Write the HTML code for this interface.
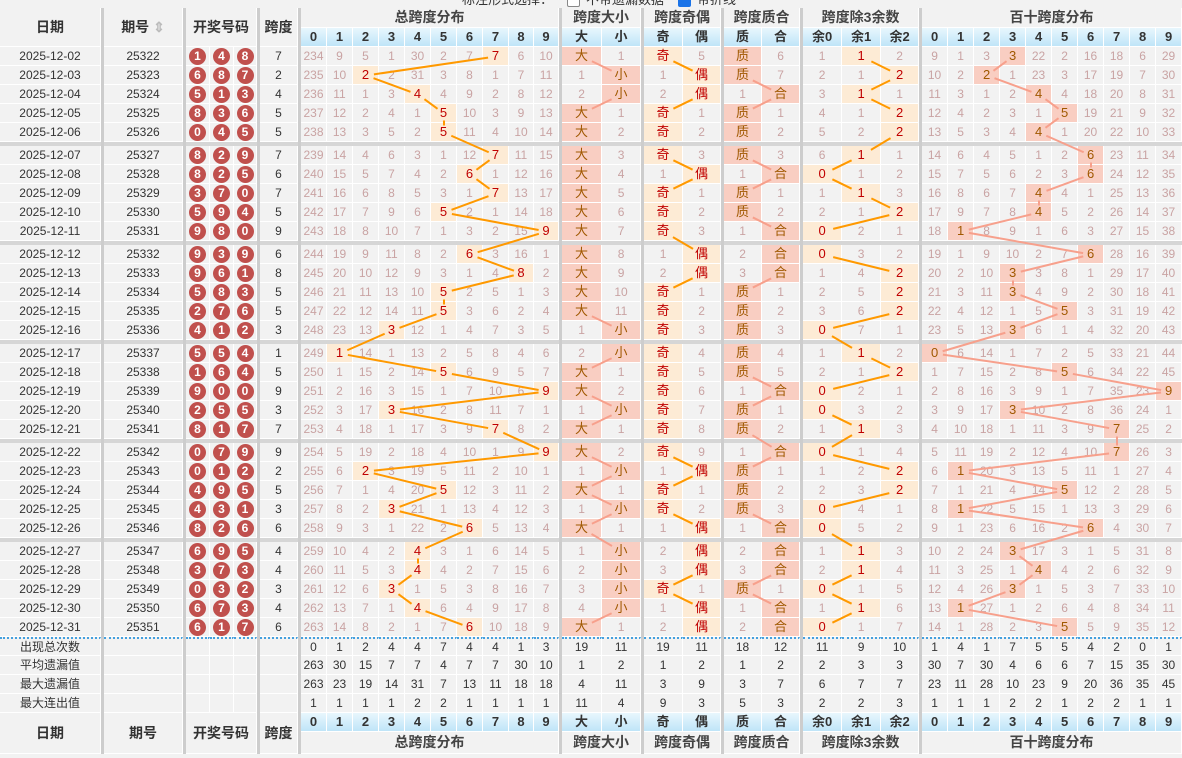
<!DOCTYPE html>
<html><head><meta charset="utf-8">
<style>
body{margin:0;background:#f2f2f2;width:1182px;height:758px;overflow:hidden;position:relative;font-family:"Liberation Sans","Noto Sans CJK SC",sans-serif}
table{position:absolute;top:8px;left:0;border-collapse:separate;border-spacing:0;table-layout:fixed;width:1182px}
td{padding:0;height:18px;max-height:18px;border-right:1px solid #fff;border-bottom:1px solid #fff;background:#f2f2f2;text-align:center;font-size:12px;color:#c9a3a3;white-space:nowrap;overflow:hidden;line-height:18px}
tr{height:19px}
td.s{background:#cdcdcd;border:0}
tr.r td:nth-child(-n+6){color:#333}
tr.st td{color:#333}
tr.st1 td{border-top:2px dotted #45a0de;height:16px;line-height:16px}
tr.gs{height:4px}
tr.gs td{height:4px;background:#d6d6d6;border:0;line-height:4px;font-size:1px}
.h{background:#fdebd5;color:#c00000;font-size:13px}
.g{background:#f9cec2;color:#a05800;font-size:13px}
.t{font-weight:bold;color:#444;font-size:14px;height:19px;line-height:19px}
.b{background:linear-gradient(#e8f7fd,#bfe5f8);color:#333;font-weight:bold;font-size:13px}
.k{color:#333;font-weight:bold;font-size:14px}
i{font-style:normal;display:block;margin:0.5px auto 0;width:17px;height:17px;border-radius:50%;background:#c0504d;color:#fff;font-weight:bold;font-size:12px;line-height:17px}
#top{position:absolute;top:-8px;left:462px;font-size:13px;color:#333;line-height:16px}
#top b{display:inline-block;width:11px;height:11px;border:1px solid #888;background:#fff;vertical-align:middle;margin:0 6px 0 14px;border-radius:2px}
#top b.c{background:#1a73e8;border-color:#1a73e8}
svg{position:absolute;left:0;top:0}
</style></head><body>
<div id="top">标注形式选择：<b></b>不带遗漏数据<b class="c"></b>带折线</div>
<table>
<colgroup><col style="width:101px"><col style="width:3px"><col style="width:79px"><col style="width:3px"><col style="width:24px"><col style="width:24px"><col style="width:23px"><col style="width:3px"><col style="width:38px"><col style="width:3px"><col style="width:26px"><col style="width:26px"><col style="width:26px"><col style="width:26px"><col style="width:26px"><col style="width:26px"><col style="width:26px"><col style="width:26px"><col style="width:25px"><col style="width:25px"><col style="width:3px"><col style="width:40px"><col style="width:39px"><col style="width:3px"><col style="width:39px"><col style="width:38px"><col style="width:3px"><col style="width:38px"><col style="width:38px"><col style="width:3px"><col style="width:39px"><col style="width:39px"><col style="width:38px"><col style="width:3px"><col style="width:26px"><col style="width:26px"><col style="width:26px"><col style="width:26px"><col style="width:26px"><col style="width:26px"><col style="width:26px"><col style="width:26px"><col style="width:26px"><col style="width:26px"></colgroup>
<tr style="height:20px"><td class="k" rowspan="2">日期</td><td class="s" rowspan="43"></td><td class="k" rowspan="2">期号 <span style="color:#bbb">⇕</span></td><td class="s" rowspan="43"></td><td class="k" colspan="3" rowspan="2">开奖号码</td><td class="s" rowspan="43"></td><td class="k" rowspan="2">跨度</td><td class="s" rowspan="43"></td><td class="t" colspan="10">总跨度分布</td><td class="s" rowspan="43"></td><td class="t" colspan="2">跨度大小</td><td class="s" rowspan="43"></td><td class="t" colspan="2">跨度奇偶</td><td class="s" rowspan="43"></td><td class="t" colspan="2">跨度质合</td><td class="s" rowspan="43"></td><td class="t" colspan="3">跨度除3余数</td><td class="s" rowspan="43"></td><td class="t" colspan="10">百十跨度分布</td></tr>
<tr><td class="b">0</td><td class="b">1</td><td class="b">2</td><td class="b">3</td><td class="b">4</td><td class="b">5</td><td class="b">6</td><td class="b">7</td><td class="b">8</td><td class="b">9</td><td class="b">大</td><td class="b">小</td><td class="b">奇</td><td class="b">偶</td><td class="b">质</td><td class="b">合</td><td class="b">余0</td><td class="b">余1</td><td class="b">余2</td><td class="b">0</td><td class="b">1</td><td class="b">2</td><td class="b">3</td><td class="b">4</td><td class="b">5</td><td class="b">6</td><td class="b">7</td><td class="b">8</td><td class="b">9</td></tr>

<tr class="r"><td>2025-12-02</td><td>25322</td><td><i>1</i></td><td><i>4</i></td><td><i>8</i></td><td>7</td><td>234</td><td>9</td><td>5</td><td>1</td><td>30</td><td>2</td><td>7</td><td class="h">7</td><td>6</td><td>10</td><td class="g">大</td><td>1</td><td class="h">奇</td><td>5</td><td class="g">质</td><td>6</td><td>1</td><td class="h">1</td><td>2</td><td>9</td><td>1</td><td>3</td><td class="g">3</td><td>22</td><td>2</td><td>16</td><td>18</td><td>6</td><td>29</td></tr>
<tr class="r"><td>2025-12-03</td><td>25323</td><td><i>6</i></td><td><i>8</i></td><td><i>7</i></td><td>2</td><td>235</td><td>10</td><td class="h">2</td><td>2</td><td>31</td><td>3</td><td>8</td><td>1</td><td>7</td><td>11</td><td>1</td><td class="g">小</td><td>1</td><td class="h">偶</td><td class="g">质</td><td>7</td><td>2</td><td>1</td><td class="h">2</td><td>10</td><td>2</td><td class="g">2</td><td>1</td><td>23</td><td>3</td><td>17</td><td>19</td><td>7</td><td>30</td></tr>
<tr class="r"><td>2025-12-04</td><td>25324</td><td><i>5</i></td><td><i>1</i></td><td><i>3</i></td><td>4</td><td>236</td><td>11</td><td>1</td><td>3</td><td class="h">4</td><td>4</td><td>9</td><td>2</td><td>8</td><td>12</td><td>2</td><td class="g">小</td><td>2</td><td class="h">偶</td><td>1</td><td class="g">合</td><td>3</td><td class="h">1</td><td>1</td><td>11</td><td>3</td><td>1</td><td>2</td><td class="g">4</td><td>4</td><td>18</td><td>20</td><td>8</td><td>31</td></tr>
<tr class="r"><td>2025-12-05</td><td>25325</td><td><i>8</i></td><td><i>3</i></td><td><i>6</i></td><td>5</td><td>237</td><td>12</td><td>2</td><td>4</td><td>1</td><td class="h">5</td><td>10</td><td>3</td><td>9</td><td>13</td><td class="g">大</td><td>1</td><td class="h">奇</td><td>1</td><td class="g">质</td><td>1</td><td>4</td><td>1</td><td class="h">2</td><td>12</td><td>4</td><td>2</td><td>3</td><td>1</td><td class="g">5</td><td>19</td><td>21</td><td>9</td><td>32</td></tr>
<tr class="r"><td>2025-12-06</td><td>25326</td><td><i>0</i></td><td><i>4</i></td><td><i>5</i></td><td>5</td><td>238</td><td>13</td><td>3</td><td>5</td><td>2</td><td class="h">5</td><td>11</td><td>4</td><td>10</td><td>14</td><td class="g">大</td><td>2</td><td class="h">奇</td><td>2</td><td class="g">质</td><td>2</td><td>5</td><td>2</td><td class="h">2</td><td>13</td><td>5</td><td>3</td><td>4</td><td class="g">4</td><td>1</td><td>20</td><td>22</td><td>10</td><td>33</td></tr>
<tr class="gs"><td></td><td></td><td colspan="3"></td><td></td><td colspan="10"></td><td colspan="2"></td><td colspan="2"></td><td colspan="2"></td><td colspan="3"></td><td colspan="10"></td></tr>
<tr class="r"><td>2025-12-07</td><td>25327</td><td><i>8</i></td><td><i>2</i></td><td><i>9</i></td><td>7</td><td>239</td><td>14</td><td>4</td><td>6</td><td>3</td><td>1</td><td>12</td><td class="h">7</td><td>11</td><td>15</td><td class="g">大</td><td>3</td><td class="h">奇</td><td>3</td><td class="g">质</td><td>3</td><td>6</td><td class="h">1</td><td>1</td><td>14</td><td>6</td><td>4</td><td>5</td><td>1</td><td>2</td><td class="g">6</td><td>23</td><td>11</td><td>34</td></tr>
<tr class="r"><td>2025-12-08</td><td>25328</td><td><i>8</i></td><td><i>2</i></td><td><i>5</i></td><td>6</td><td>240</td><td>15</td><td>5</td><td>7</td><td>4</td><td>2</td><td class="h">6</td><td>1</td><td>12</td><td>16</td><td class="g">大</td><td>4</td><td>1</td><td class="h">偶</td><td>1</td><td class="g">合</td><td class="h">0</td><td>1</td><td>2</td><td>15</td><td>7</td><td>5</td><td>6</td><td>2</td><td>3</td><td class="g">6</td><td>24</td><td>12</td><td>35</td></tr>
<tr class="r"><td>2025-12-09</td><td>25329</td><td><i>3</i></td><td><i>7</i></td><td><i>0</i></td><td>7</td><td>241</td><td>16</td><td>6</td><td>8</td><td>5</td><td>3</td><td>1</td><td class="h">7</td><td>13</td><td>17</td><td class="g">大</td><td>5</td><td class="h">奇</td><td>1</td><td class="g">质</td><td>1</td><td>1</td><td class="h">1</td><td>3</td><td>16</td><td>8</td><td>6</td><td>7</td><td class="g">4</td><td>4</td><td>1</td><td>25</td><td>13</td><td>36</td></tr>
<tr class="r"><td>2025-12-10</td><td>25330</td><td><i>5</i></td><td><i>9</i></td><td><i>4</i></td><td>5</td><td>242</td><td>17</td><td>7</td><td>9</td><td>6</td><td class="h">5</td><td>2</td><td>1</td><td>14</td><td>18</td><td class="g">大</td><td>6</td><td class="h">奇</td><td>2</td><td class="g">质</td><td>2</td><td>2</td><td>1</td><td class="h">2</td><td>17</td><td>9</td><td>7</td><td>8</td><td class="g">4</td><td>5</td><td>2</td><td>26</td><td>14</td><td>37</td></tr>
<tr class="r"><td>2025-12-11</td><td>25331</td><td><i>9</i></td><td><i>8</i></td><td><i>0</i></td><td>9</td><td>243</td><td>18</td><td>8</td><td>10</td><td>7</td><td>1</td><td>3</td><td>2</td><td>15</td><td class="h">9</td><td class="g">大</td><td>7</td><td class="h">奇</td><td>3</td><td>1</td><td class="g">合</td><td class="h">0</td><td>2</td><td>1</td><td>18</td><td class="g">1</td><td>8</td><td>9</td><td>1</td><td>6</td><td>3</td><td>27</td><td>15</td><td>38</td></tr>
<tr class="gs"><td></td><td></td><td colspan="3"></td><td></td><td colspan="10"></td><td colspan="2"></td><td colspan="2"></td><td colspan="2"></td><td colspan="3"></td><td colspan="10"></td></tr>
<tr class="r"><td>2025-12-12</td><td>25332</td><td><i>9</i></td><td><i>3</i></td><td><i>9</i></td><td>6</td><td>244</td><td>19</td><td>9</td><td>11</td><td>8</td><td>2</td><td class="h">6</td><td>3</td><td>16</td><td>1</td><td class="g">大</td><td>8</td><td>1</td><td class="h">偶</td><td>2</td><td class="g">合</td><td class="h">0</td><td>3</td><td>2</td><td>19</td><td>1</td><td>9</td><td>10</td><td>2</td><td>7</td><td class="g">6</td><td>28</td><td>16</td><td>39</td></tr>
<tr class="r"><td>2025-12-13</td><td>25333</td><td><i>9</i></td><td><i>6</i></td><td><i>1</i></td><td>8</td><td>245</td><td>20</td><td>10</td><td>12</td><td>9</td><td>3</td><td>1</td><td>4</td><td class="h">8</td><td>2</td><td class="g">大</td><td>9</td><td>2</td><td class="h">偶</td><td>3</td><td class="g">合</td><td>1</td><td>4</td><td class="h">2</td><td>20</td><td>2</td><td>10</td><td class="g">3</td><td>3</td><td>8</td><td>1</td><td>29</td><td>17</td><td>40</td></tr>
<tr class="r"><td>2025-12-14</td><td>25334</td><td><i>5</i></td><td><i>8</i></td><td><i>3</i></td><td>5</td><td>246</td><td>21</td><td>11</td><td>13</td><td>10</td><td class="h">5</td><td>2</td><td>5</td><td>1</td><td>3</td><td class="g">大</td><td>10</td><td class="h">奇</td><td>1</td><td class="g">质</td><td>1</td><td>2</td><td>5</td><td class="h">2</td><td>21</td><td>3</td><td>11</td><td class="g">3</td><td>4</td><td>9</td><td>2</td><td>30</td><td>18</td><td>41</td></tr>
<tr class="r"><td>2025-12-15</td><td>25335</td><td><i>2</i></td><td><i>7</i></td><td><i>6</i></td><td>5</td><td>247</td><td>22</td><td>12</td><td>14</td><td>11</td><td class="h">5</td><td>3</td><td>6</td><td>2</td><td>4</td><td class="g">大</td><td>11</td><td class="h">奇</td><td>2</td><td class="g">质</td><td>2</td><td>3</td><td>6</td><td class="h">2</td><td>22</td><td>4</td><td>12</td><td>1</td><td>5</td><td class="g">5</td><td>3</td><td>31</td><td>19</td><td>42</td></tr>
<tr class="r"><td>2025-12-16</td><td>25336</td><td><i>4</i></td><td><i>1</i></td><td><i>2</i></td><td>3</td><td>248</td><td>23</td><td>13</td><td class="h">3</td><td>12</td><td>1</td><td>4</td><td>7</td><td>3</td><td>5</td><td>1</td><td class="g">小</td><td class="h">奇</td><td>3</td><td class="g">质</td><td>3</td><td class="h">0</td><td>7</td><td>1</td><td>23</td><td>5</td><td>13</td><td class="g">3</td><td>6</td><td>1</td><td>4</td><td>32</td><td>20</td><td>43</td></tr>
<tr class="gs"><td></td><td></td><td colspan="3"></td><td></td><td colspan="10"></td><td colspan="2"></td><td colspan="2"></td><td colspan="2"></td><td colspan="3"></td><td colspan="10"></td></tr>
<tr class="r"><td>2025-12-17</td><td>25337</td><td><i>5</i></td><td><i>5</i></td><td><i>4</i></td><td>1</td><td>249</td><td class="h">1</td><td>14</td><td>1</td><td>13</td><td>2</td><td>5</td><td>8</td><td>4</td><td>6</td><td>2</td><td class="g">小</td><td class="h">奇</td><td>4</td><td class="g">质</td><td>4</td><td>1</td><td class="h">1</td><td>2</td><td class="g">0</td><td>6</td><td>14</td><td>1</td><td>7</td><td>2</td><td>5</td><td>33</td><td>21</td><td>44</td></tr>
<tr class="r"><td>2025-12-18</td><td>25338</td><td><i>1</i></td><td><i>6</i></td><td><i>4</i></td><td>5</td><td>250</td><td>1</td><td>15</td><td>2</td><td>14</td><td class="h">5</td><td>6</td><td>9</td><td>5</td><td>7</td><td class="g">大</td><td>1</td><td class="h">奇</td><td>5</td><td class="g">质</td><td>5</td><td>2</td><td>1</td><td class="h">2</td><td>1</td><td>7</td><td>15</td><td>2</td><td>8</td><td class="g">5</td><td>6</td><td>34</td><td>22</td><td>45</td></tr>
<tr class="r"><td>2025-12-19</td><td>25339</td><td><i>9</i></td><td><i>0</i></td><td><i>0</i></td><td>9</td><td>251</td><td>2</td><td>16</td><td>3</td><td>15</td><td>1</td><td>7</td><td>10</td><td>6</td><td class="h">9</td><td class="g">大</td><td>2</td><td class="h">奇</td><td>6</td><td>1</td><td class="g">合</td><td class="h">0</td><td>2</td><td>1</td><td>2</td><td>8</td><td>16</td><td>3</td><td>9</td><td>1</td><td>7</td><td>35</td><td>23</td><td class="g">9</td></tr>
<tr class="r"><td>2025-12-20</td><td>25340</td><td><i>2</i></td><td><i>5</i></td><td><i>5</i></td><td>3</td><td>252</td><td>3</td><td>17</td><td class="h">3</td><td>16</td><td>2</td><td>8</td><td>11</td><td>7</td><td>1</td><td>1</td><td class="g">小</td><td class="h">奇</td><td>7</td><td class="g">质</td><td>1</td><td class="h">0</td><td>3</td><td>2</td><td>3</td><td>9</td><td>17</td><td class="g">3</td><td>10</td><td>2</td><td>8</td><td>36</td><td>24</td><td>1</td></tr>
<tr class="r"><td>2025-12-21</td><td>25341</td><td><i>8</i></td><td><i>1</i></td><td><i>7</i></td><td>7</td><td>253</td><td>4</td><td>18</td><td>1</td><td>17</td><td>3</td><td>9</td><td class="h">7</td><td>8</td><td>2</td><td class="g">大</td><td>1</td><td class="h">奇</td><td>8</td><td class="g">质</td><td>2</td><td>1</td><td class="h">1</td><td>3</td><td>4</td><td>10</td><td>18</td><td>1</td><td>11</td><td>3</td><td>9</td><td class="g">7</td><td>25</td><td>2</td></tr>
<tr class="gs"><td></td><td></td><td colspan="3"></td><td></td><td colspan="10"></td><td colspan="2"></td><td colspan="2"></td><td colspan="2"></td><td colspan="3"></td><td colspan="10"></td></tr>
<tr class="r"><td>2025-12-22</td><td>25342</td><td><i>0</i></td><td><i>7</i></td><td><i>9</i></td><td>9</td><td>254</td><td>5</td><td>19</td><td>2</td><td>18</td><td>4</td><td>10</td><td>1</td><td>9</td><td class="h">9</td><td class="g">大</td><td>2</td><td class="h">奇</td><td>9</td><td>1</td><td class="g">合</td><td class="h">0</td><td>1</td><td>4</td><td>5</td><td>11</td><td>19</td><td>2</td><td>12</td><td>4</td><td>10</td><td class="g">7</td><td>26</td><td>3</td></tr>
<tr class="r"><td>2025-12-23</td><td>25343</td><td><i>0</i></td><td><i>1</i></td><td><i>2</i></td><td>2</td><td>255</td><td>6</td><td class="h">2</td><td>3</td><td>19</td><td>5</td><td>11</td><td>2</td><td>10</td><td>1</td><td>1</td><td class="g">小</td><td>1</td><td class="h">偶</td><td class="g">质</td><td>1</td><td>1</td><td>2</td><td class="h">2</td><td>6</td><td class="g">1</td><td>20</td><td>3</td><td>13</td><td>5</td><td>11</td><td>1</td><td>27</td><td>4</td></tr>
<tr class="r"><td>2025-12-24</td><td>25344</td><td><i>4</i></td><td><i>9</i></td><td><i>5</i></td><td>5</td><td>256</td><td>7</td><td>1</td><td>4</td><td>20</td><td class="h">5</td><td>12</td><td>3</td><td>11</td><td>2</td><td class="g">大</td><td>1</td><td class="h">奇</td><td>1</td><td class="g">质</td><td>2</td><td>2</td><td>3</td><td class="h">2</td><td>7</td><td>1</td><td>21</td><td>4</td><td>14</td><td class="g">5</td><td>12</td><td>2</td><td>28</td><td>5</td></tr>
<tr class="r"><td>2025-12-25</td><td>25345</td><td><i>4</i></td><td><i>3</i></td><td><i>1</i></td><td>3</td><td>257</td><td>8</td><td>2</td><td class="h">3</td><td>21</td><td>1</td><td>13</td><td>4</td><td>12</td><td>3</td><td>1</td><td class="g">小</td><td class="h">奇</td><td>2</td><td class="g">质</td><td>3</td><td class="h">0</td><td>4</td><td>1</td><td>8</td><td class="g">1</td><td>22</td><td>5</td><td>15</td><td>1</td><td>13</td><td>3</td><td>29</td><td>6</td></tr>
<tr class="r"><td>2025-12-26</td><td>25346</td><td><i>8</i></td><td><i>2</i></td><td><i>6</i></td><td>6</td><td>258</td><td>9</td><td>3</td><td>1</td><td>22</td><td>2</td><td class="h">6</td><td>5</td><td>13</td><td>4</td><td class="g">大</td><td>1</td><td>1</td><td class="h">偶</td><td>1</td><td class="g">合</td><td class="h">0</td><td>5</td><td>2</td><td>9</td><td>1</td><td>23</td><td>6</td><td>16</td><td>2</td><td class="g">6</td><td>4</td><td>30</td><td>7</td></tr>
<tr class="gs"><td></td><td></td><td colspan="3"></td><td></td><td colspan="10"></td><td colspan="2"></td><td colspan="2"></td><td colspan="2"></td><td colspan="3"></td><td colspan="10"></td></tr>
<tr class="r"><td>2025-12-27</td><td>25347</td><td><i>6</i></td><td><i>9</i></td><td><i>5</i></td><td>4</td><td>259</td><td>10</td><td>4</td><td>2</td><td class="h">4</td><td>3</td><td>1</td><td>6</td><td>14</td><td>5</td><td>1</td><td class="g">小</td><td>2</td><td class="h">偶</td><td>2</td><td class="g">合</td><td>1</td><td class="h">1</td><td>3</td><td>10</td><td>2</td><td>24</td><td class="g">3</td><td>17</td><td>3</td><td>1</td><td>5</td><td>31</td><td>8</td></tr>
<tr class="r"><td>2025-12-28</td><td>25348</td><td><i>3</i></td><td><i>7</i></td><td><i>3</i></td><td>4</td><td>260</td><td>11</td><td>5</td><td>3</td><td class="h">4</td><td>4</td><td>2</td><td>7</td><td>15</td><td>6</td><td>2</td><td class="g">小</td><td>3</td><td class="h">偶</td><td>3</td><td class="g">合</td><td>2</td><td class="h">1</td><td>4</td><td>11</td><td>3</td><td>25</td><td>1</td><td class="g">4</td><td>4</td><td>2</td><td>6</td><td>32</td><td>9</td></tr>
<tr class="r"><td>2025-12-29</td><td>25349</td><td><i>0</i></td><td><i>3</i></td><td><i>2</i></td><td>3</td><td>261</td><td>12</td><td>6</td><td class="h">3</td><td>1</td><td>5</td><td>3</td><td>8</td><td>16</td><td>7</td><td>3</td><td class="g">小</td><td class="h">奇</td><td>1</td><td class="g">质</td><td>1</td><td class="h">0</td><td>1</td><td>5</td><td>12</td><td>4</td><td>26</td><td class="g">3</td><td>1</td><td>5</td><td>3</td><td>7</td><td>33</td><td>10</td></tr>
<tr class="r"><td>2025-12-30</td><td>25350</td><td><i>6</i></td><td><i>7</i></td><td><i>3</i></td><td>4</td><td>262</td><td>13</td><td>7</td><td>1</td><td class="h">4</td><td>6</td><td>4</td><td>9</td><td>17</td><td>8</td><td>4</td><td class="g">小</td><td>1</td><td class="h">偶</td><td>1</td><td class="g">合</td><td>1</td><td class="h">1</td><td>6</td><td>13</td><td class="g">1</td><td>27</td><td>1</td><td>2</td><td>6</td><td>4</td><td>8</td><td>34</td><td>11</td></tr>
<tr class="r"><td>2025-12-31</td><td>25351</td><td><i>6</i></td><td><i>1</i></td><td><i>7</i></td><td>6</td><td>263</td><td>14</td><td>8</td><td>2</td><td>1</td><td>7</td><td class="h">6</td><td>10</td><td>18</td><td>9</td><td class="g">大</td><td>1</td><td>2</td><td class="h">偶</td><td>2</td><td class="g">合</td><td class="h">0</td><td>1</td><td>7</td><td>14</td><td>1</td><td>28</td><td>2</td><td>3</td><td class="g">5</td><td>5</td><td>9</td><td>35</td><td>12</td></tr>

<tr class="st st1"><td>出现总次数</td><td></td><td></td><td></td><td></td><td></td><td>0</td><td>1</td><td>2</td><td>4</td><td>4</td><td>7</td><td>4</td><td>4</td><td>1</td><td>3</td><td>19</td><td>11</td><td>19</td><td>11</td><td>18</td><td>12</td><td>11</td><td>9</td><td>10</td><td>1</td><td>4</td><td>1</td><td>7</td><td>5</td><td>5</td><td>4</td><td>2</td><td>0</td><td>1</td></tr>
<tr class="st"><td>平均遗漏值</td><td></td><td></td><td></td><td></td><td></td><td>263</td><td>30</td><td>15</td><td>7</td><td>7</td><td>4</td><td>7</td><td>7</td><td>30</td><td>10</td><td>1</td><td>2</td><td>1</td><td>2</td><td>1</td><td>2</td><td>2</td><td>3</td><td>3</td><td>30</td><td>7</td><td>30</td><td>4</td><td>6</td><td>6</td><td>7</td><td>15</td><td>35</td><td>30</td></tr>
<tr class="st"><td>最大遗漏值</td><td></td><td></td><td></td><td></td><td></td><td>263</td><td>23</td><td>19</td><td>14</td><td>31</td><td>7</td><td>13</td><td>11</td><td>18</td><td>18</td><td>4</td><td>11</td><td>3</td><td>9</td><td>3</td><td>7</td><td>6</td><td>7</td><td>7</td><td>23</td><td>11</td><td>28</td><td>10</td><td>23</td><td>9</td><td>20</td><td>36</td><td>35</td><td>45</td></tr>
<tr class="st"><td>最大连出值</td><td></td><td></td><td></td><td></td><td></td><td>1</td><td>1</td><td>1</td><td>1</td><td>2</td><td>2</td><td>1</td><td>1</td><td>1</td><td>1</td><td>11</td><td>4</td><td>9</td><td>3</td><td>5</td><td>3</td><td>2</td><td>2</td><td>3</td><td>1</td><td>1</td><td>1</td><td>2</td><td>2</td><td>1</td><td>2</td><td>2</td><td>1</td><td>1</td></tr>

<tr><td class="k" rowspan="2">日期</td><td class="k" rowspan="2">期号</td><td class="k" colspan="3" rowspan="2">开奖号码</td><td class="k" rowspan="2">跨度</td><td class="b">0</td><td class="b">1</td><td class="b">2</td><td class="b">3</td><td class="b">4</td><td class="b">5</td><td class="b">6</td><td class="b">7</td><td class="b">8</td><td class="b">9</td><td class="b">大</td><td class="b">小</td><td class="b">奇</td><td class="b">偶</td><td class="b">质</td><td class="b">合</td><td class="b">余0</td><td class="b">余1</td><td class="b">余2</td><td class="b">0</td><td class="b">1</td><td class="b">2</td><td class="b">3</td><td class="b">4</td><td class="b">5</td><td class="b">6</td><td class="b">7</td><td class="b">8</td><td class="b">9</td></tr>
<tr style="height:22px"><td class="t" colspan="10" style="height:21px;line-height:21px">总跨度分布</td><td class="t" colspan="2">跨度大小</td><td class="t" colspan="2">跨度奇偶</td><td class="t" colspan="2">跨度质合</td><td class="t" colspan="3">跨度除3余数</td><td class="t" colspan="10">百十跨度分布</td></tr>
</table>
<svg id="sv" width="1182" height="758"></svg>
<script>
(function(){
var Y=function(i){return 47+Math.floor(i/5)*99+(i%5)*19+9.5;};
var sp=[7,2,4,5,5,7,6,7,5,9,6,8,5,5,3,1,5,9,3,7,9,2,5,3,6,4,4,3,4,6];
var bs=[3,2,4,5,4,6,6,4,4,1,6,3,3,5,3,0,5,9,3,7,7,1,5,1,6,3,4,3,1,5];
var tc=[314,340,366,392,418,444,470,496,521.5,546.5];
var bc=[];for(var k=0;k<10;k++)bc.push(935+26*k);
var pr={1:1,2:1,3:1,5:1,7:1};
var ser=[
 {c:tc,h:sp,col:"#f90",same:true,t:8},
 {c:[582,621.5],h:sp.map(function(s){return s>=5?0:1}),col:"#f7a08c",same:false,t:11},
 {c:[663.5,702.5],h:sp.map(function(s){return s%2?0:1}),col:"#f90",same:false,t:11},
 {c:[743,781],h:sp.map(function(s){return pr[s]?0:1}),col:"#f7a08c",same:false,t:11},
 {c:[822.5,861.5,900],h:sp.map(function(s){return s%3}),col:"#f90",same:false,t:11},
 {c:bc,h:bs,col:"#f7a08c",same:true,t:8}
];
var out="";
ser.forEach(function(s){
 for(var i=0;i<29;i++){
  var a=s.h[i],b=s.h[i+1];
  if(a==b&&!s.same)continue;
  var x1=s.c[a],y1=Y(i),x2=s.c[b],y2=Y(i+1);
  var dx=x2-x1,dy=y2-y1,L=Math.sqrt(dx*dx+dy*dy);
  var t=(a==b)?7:s.t;
  if(L<=2*t)continue;
  var ux=dx/L,uy=dy/L;
  out+='<line x1="'+(x1+ux*t)+'" y1="'+(y1+uy*t)+'" x2="'+(x2-ux*t)+'" y2="'+(y2-uy*t)+'" stroke="'+s.col+'" stroke-width="2"/>';
 }
});
document.getElementById("sv").innerHTML=out;
})();
</script>
</body></html>
